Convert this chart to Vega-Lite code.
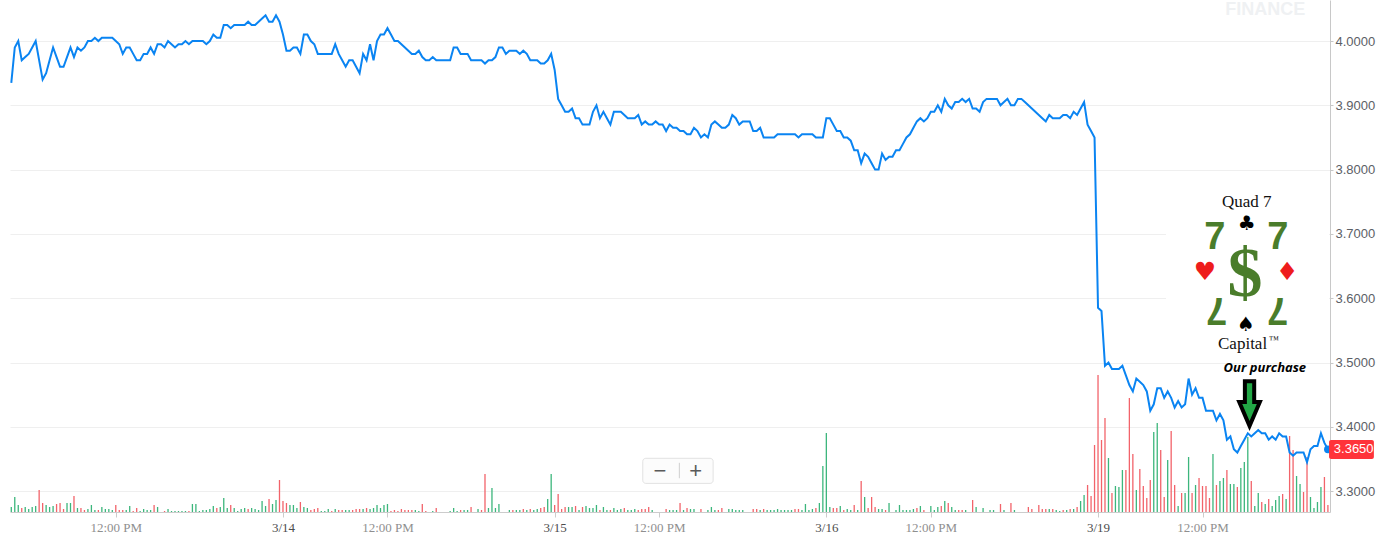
{
  "$schema": "https://vega.github.io/schema/vega-lite/v6.json",
  "width": 1320,
  "height": 512,
  "autosize": {"type": "none"},
  "padding": {"left": 10, "top": 0, "right": 54, "bottom": 34},
  "background": "#ffffff",
  "config": {"view": {"stroke": null}},
  "datasets": {
    "rows": [
      {"k":0,"p":3.935,"v":50,"c":"u"},{"k":1,"p":3.99,"v":150,"c":"u"},{"k":2,"p":4.0,"v":70,"c":"u"},{"k":3,"p":3.97,"v":40,"c":"d"},
      {"k":4,"p":3.975,"v":50,"c":"u"},{"k":5,"p":3.98,"v":30,"c":"u"},{"k":6,"p":3.99,"v":50,"c":"u"},{"k":7,"p":4.0,"v":60,"c":"u"},
      {"k":8,"p":3.97,"v":220,"c":"d"},{"k":9,"p":3.94,"v":90,"c":"d"},{"k":10,"p":3.95,"v":70,"c":"u"},{"k":11,"p":3.97,"v":50,"c":"u"},
      {"k":12,"p":3.99,"v":60,"c":"u"},{"k":13,"p":3.975,"v":80,"c":"d"},{"k":14,"p":3.96,"v":90,"c":"d"},{"k":15,"p":3.96,"v":30,"c":"d"},
      {"k":16,"p":3.975,"v":90,"c":"u"},{"k":17,"p":3.99,"v":90,"c":"u"},{"k":18,"p":3.975,"v":160,"c":"d"},{"k":19,"p":3.99,"v":40,"c":"u"},
      {"k":20,"p":3.985,"v":40,"c":"d"},{"k":21,"p":3.99,"v":20,"c":"d"},{"k":22,"p":4.0,"v":30,"c":"u"},{"k":23,"p":4.0,"v":70,"c":"u"},
      {"k":24,"p":4.005,"v":20,"c":"u"},{"k":25,"p":4.0,"v":20,"c":"d"},{"k":26,"p":4.005,"v":50,"c":"u"},{"k":27,"p":4.005,"v":30,"c":"u"},
      {"k":28,"p":4.005,"v":30,"c":"u"},{"k":29,"p":4.005,"v":20,"c":"u"},{"k":30,"p":4.0,"v":70,"c":"d"},{"k":31,"p":3.995,"v":20,"c":"d"},
      {"k":32,"p":3.98,"v":20,"c":"d"},{"k":33,"p":3.99,"v":20,"c":"u"},{"k":34,"p":3.99,"v":60,"c":"u"},{"k":35,"p":3.98,"v":10,"c":"d"},
      {"k":36,"p":3.97,"v":40,"c":"d"},{"k":37,"p":3.97,"v":10,"c":"u"},{"k":38,"p":3.98,"v":30,"c":"u"},{"k":39,"p":3.98,"v":20,"c":"u"},
      {"k":40,"p":3.99,"v":20,"c":"u"},{"k":41,"p":3.98,"v":70,"c":"d"},{"k":42,"p":3.995,"v":50,"c":"u"},{"k":43,"p":3.995,"v":0,"c":"u"},
      {"k":44,"p":3.99,"v":10,"c":"d"},{"k":45,"p":4.0,"v":30,"c":"u"},{"k":46,"p":3.995,"v":10,"c":"u"},{"k":47,"p":3.99,"v":10,"c":"u"},
      {"k":48,"p":3.995,"v":10,"c":"u"},{"k":49,"p":3.995,"v":10,"c":"u"},{"k":50,"p":4.0,"v":10,"c":"u"},{"k":51,"p":3.995,"v":10,"c":"d"},
      {"k":52,"p":4.0,"v":80,"c":"u"},{"k":53,"p":4.0,"v":80,"c":"u"},{"k":54,"p":4.0,"v":10,"c":"u"},{"k":55,"p":4.0,"v":20,"c":"u"},
      {"k":56,"p":3.995,"v":20,"c":"u"},{"k":57,"p":4.0,"v":30,"c":"u"},{"k":58,"p":4.01,"v":60,"c":"u"},{"k":59,"p":4.005,"v":40,"c":"d"},
      {"k":60,"p":4.005,"v":50,"c":"u"},{"k":61,"p":4.025,"v":140,"c":"u"},{"k":62,"p":4.025,"v":40,"c":"u"},{"k":63,"p":4.02,"v":70,"c":"d"},
      {"k":64,"p":4.025,"v":40,"c":"u"},{"k":65,"p":4.025,"v":10,"c":"u"},{"k":66,"p":4.025,"v":30,"c":"u"},{"k":67,"p":4.025,"v":40,"c":"u"},
      {"k":68,"p":4.03,"v":30,"c":"d"},{"k":69,"p":4.025,"v":40,"c":"u"},{"k":70,"p":4.025,"v":30,"c":"u"},{"k":71,"p":4.03,"v":20,"c":"u"},
      {"k":72,"p":4.035,"v":110,"c":"u"},{"k":73,"p":4.04,"v":60,"c":"u"},{"k":74,"p":4.03,"v":130,"c":"d"},{"k":75,"p":4.03,"v":80,"c":"u"},
      {"k":76,"p":4.04,"v":120,"c":"u"},{"k":77,"p":4.03,"v":320,"c":"d"},{"k":78,"p":4.01,"v":110,"c":"d"},{"k":79,"p":3.985,"v":90,"c":"d"},
      {"k":80,"p":3.985,"v":70,"c":"u"},{"k":81,"p":3.99,"v":70,"c":"u"},{"k":82,"p":3.99,"v":40,"c":"u"},{"k":83,"p":3.98,"v":100,"c":"d"},
      {"k":84,"p":4.01,"v":50,"c":"u"},{"k":85,"p":4.01,"v":40,"c":"u"},{"k":86,"p":4.0,"v":20,"c":"d"},{"k":87,"p":3.995,"v":30,"c":"d"},
      {"k":88,"p":3.98,"v":40,"c":"d"},{"k":89,"p":3.98,"v":10,"c":"u"},{"k":90,"p":3.98,"v":10,"c":"u"},{"k":91,"p":3.98,"v":30,"c":"u"},
      {"k":92,"p":3.98,"v":10,"c":"d"},{"k":93,"p":3.995,"v":30,"c":"u"},{"k":94,"p":3.98,"v":20,"c":"d"},{"k":95,"p":3.97,"v":20,"c":"d"},
      {"k":96,"p":3.96,"v":20,"c":"u"},{"k":97,"p":3.97,"v":20,"c":"u"},{"k":98,"p":3.97,"v":20,"c":"d"},{"k":99,"p":3.96,"v":30,"c":"d"},
      {"k":100,"p":3.95,"v":30,"c":"d"},{"k":101,"p":3.98,"v":30,"c":"u"},{"k":102,"p":3.97,"v":40,"c":"d"},{"k":103,"p":3.995,"v":30,"c":"u"},
      {"k":104,"p":3.97,"v":40,"c":"u"},{"k":105,"p":4.0,"v":70,"c":"u"},{"k":106,"p":4.01,"v":40,"c":"u"},{"k":107,"p":4.01,"v":70,"c":"u"},
      {"k":108,"p":4.02,"v":80,"c":"u"},{"k":109,"p":4.01,"v":10,"c":"d"},{"k":110,"p":4.0,"v":20,"c":"d"},{"k":111,"p":4.0,"v":10,"c":"d"},
      {"k":112,"p":3.995,"v":30,"c":"d"},{"k":113,"p":3.99,"v":20,"c":"d"},{"k":114,"p":3.985,"v":20,"c":"d"},{"k":115,"p":3.98,"v":20,"c":"d"},
      {"k":116,"p":3.98,"v":20,"c":"u"},{"k":117,"p":3.985,"v":10,"c":"u"},{"k":118,"p":3.975,"v":80,"c":"d"},{"k":119,"p":3.97,"v":10,"c":"d"},
      {"k":120,"p":3.97,"v":0,"c":"u"},{"k":121,"p":3.975,"v":10,"c":"u"},{"k":122,"p":3.97,"v":40,"c":"d"},{"k":123,"p":3.97,"v":0,"c":"u"},
      {"k":124,"p":3.97,"v":0,"c":"u"},{"k":125,"p":3.97,"v":0,"c":"u"},{"k":126,"p":3.97,"v":10,"c":"u"},{"k":127,"p":3.99,"v":40,"c":"u"},
      {"k":128,"p":3.99,"v":10,"c":"u"},{"k":129,"p":3.98,"v":20,"c":"d"},{"k":130,"p":3.98,"v":20,"c":"u"},{"k":131,"p":3.98,"v":20,"c":"u"},
      {"k":132,"p":3.97,"v":50,"c":"d"},{"k":133,"p":3.97,"v":0,"c":"u"},{"k":134,"p":3.97,"v":30,"c":"u"},{"k":135,"p":3.97,"v":20,"c":"d"},
      {"k":136,"p":3.965,"v":380,"c":"d"},{"k":137,"p":3.97,"v":40,"c":"u"},{"k":138,"p":3.97,"v":240,"c":"u"},{"k":139,"p":3.975,"v":40,"c":"u"},
      {"k":140,"p":3.99,"v":80,"c":"u"},{"k":141,"p":3.99,"v":0,"c":"u"},{"k":142,"p":3.98,"v":0,"c":"u"},{"k":143,"p":3.985,"v":20,"c":"u"},
      {"k":144,"p":3.985,"v":20,"c":"d"},{"k":145,"p":3.985,"v":20,"c":"u"},{"k":146,"p":3.98,"v":20,"c":"u"},{"k":147,"p":3.985,"v":30,"c":"d"},
      {"k":148,"p":3.98,"v":20,"c":"u"},{"k":149,"p":3.97,"v":30,"c":"d"},{"k":150,"p":3.97,"v":20,"c":"u"},{"k":151,"p":3.97,"v":30,"c":"u"},
      {"k":152,"p":3.965,"v":40,"c":"d"},{"k":153,"p":3.965,"v":50,"c":"d"},{"k":154,"p":3.97,"v":130,"c":"u"},{"k":155,"p":3.98,"v":380,"c":"u"},
      {"k":156,"p":3.955,"v":70,"c":"d"},{"k":157,"p":3.91,"v":180,"c":"d"},{"k":158,"p":3.9,"v":30,"c":"d"},{"k":159,"p":3.89,"v":50,"c":"d"},
      {"k":160,"p":3.89,"v":50,"c":"u"},{"k":161,"p":3.895,"v":50,"c":"u"},{"k":162,"p":3.88,"v":60,"c":"d"},{"k":163,"p":3.88,"v":20,"c":"u"},
      {"k":164,"p":3.87,"v":50,"c":"d"},{"k":165,"p":3.87,"v":60,"c":"u"},{"k":166,"p":3.87,"v":40,"c":"u"},{"k":167,"p":3.89,"v":40,"c":"u"},
      {"k":168,"p":3.9,"v":70,"c":"u"},{"k":169,"p":3.88,"v":20,"c":"d"},{"k":170,"p":3.89,"v":50,"c":"u"},{"k":171,"p":3.88,"v":20,"c":"u"},
      {"k":172,"p":3.87,"v":20,"c":"d"},{"k":173,"p":3.89,"v":40,"c":"u"},{"k":174,"p":3.89,"v":20,"c":"u"},{"k":175,"p":3.89,"v":30,"c":"u"},
      {"k":176,"p":3.885,"v":40,"c":"d"},{"k":177,"p":3.88,"v":20,"c":"u"},{"k":178,"p":3.88,"v":20,"c":"u"},{"k":179,"p":3.88,"v":30,"c":"u"},
      {"k":180,"p":3.885,"v":20,"c":"d"},{"k":181,"p":3.87,"v":30,"c":"d"},{"k":182,"p":3.875,"v":30,"c":"d"},{"k":183,"p":3.87,"v":50,"c":"d"},
      {"k":184,"p":3.87,"v":20,"c":"u"},{"k":185,"p":3.875,"v":0,"c":"u"},{"k":186,"p":3.87,"v":0,"c":"u"},{"k":187,"p":3.87,"v":0,"c":"u"},
      {"k":188,"p":3.86,"v":30,"c":"d"},{"k":189,"p":3.87,"v":20,"c":"u"},{"k":190,"p":3.865,"v":20,"c":"u"},{"k":191,"p":3.865,"v":20,"c":"u"},
      {"k":192,"p":3.86,"v":90,"c":"d"},{"k":193,"p":3.86,"v":20,"c":"u"},{"k":194,"p":3.855,"v":40,"c":"d"},{"k":195,"p":3.855,"v":30,"c":"u"},
      {"k":196,"p":3.865,"v":30,"c":"u"},{"k":197,"p":3.86,"v":0,"c":"u"},{"k":198,"p":3.85,"v":30,"c":"d"},{"k":199,"p":3.855,"v":0,"c":"u"},
      {"k":200,"p":3.85,"v":20,"c":"u"},{"k":201,"p":3.87,"v":50,"c":"u"},{"k":202,"p":3.875,"v":20,"c":"u"},{"k":203,"p":3.87,"v":20,"c":"d"},
      {"k":204,"p":3.865,"v":40,"c":"d"},{"k":205,"p":3.865,"v":0,"c":"u"},{"k":206,"p":3.87,"v":30,"c":"u"},{"k":207,"p":3.885,"v":30,"c":"u"},
      {"k":208,"p":3.88,"v":20,"c":"u"},{"k":209,"p":3.87,"v":20,"c":"u"},{"k":210,"p":3.875,"v":20,"c":"u"},{"k":211,"p":3.875,"v":0,"c":"u"},
      {"k":212,"p":3.875,"v":0,"c":"u"},{"k":213,"p":3.86,"v":30,"c":"d"},{"k":214,"p":3.86,"v":30,"c":"d"},{"k":215,"p":3.865,"v":20,"c":"u"},
      {"k":216,"p":3.85,"v":30,"c":"d"},{"k":217,"p":3.85,"v":20,"c":"u"},{"k":218,"p":3.85,"v":20,"c":"u"},{"k":219,"p":3.85,"v":20,"c":"u"},
      {"k":220,"p":3.855,"v":30,"c":"u"},{"k":221,"p":3.855,"v":20,"c":"u"},{"k":222,"p":3.855,"v":20,"c":"u"},{"k":223,"p":3.855,"v":20,"c":"u"},
      {"k":224,"p":3.855,"v":20,"c":"u"},{"k":225,"p":3.855,"v":30,"c":"d"},{"k":226,"p":3.85,"v":30,"c":"d"},{"k":227,"p":3.855,"v":20,"c":"u"},
      {"k":228,"p":3.855,"v":80,"c":"u"},{"k":229,"p":3.855,"v":20,"c":"u"},{"k":230,"p":3.855,"v":30,"c":"u"},{"k":231,"p":3.85,"v":40,"c":"d"},
      {"k":232,"p":3.85,"v":90,"c":"u"},{"k":233,"p":3.85,"v":460,"c":"u"},{"k":234,"p":3.88,"v":790,"c":"u"},{"k":235,"p":3.88,"v":50,"c":"u"},
      {"k":236,"p":3.87,"v":40,"c":"d"},{"k":237,"p":3.86,"v":40,"c":"d"},{"k":238,"p":3.86,"v":60,"c":"u"},{"k":239,"p":3.85,"v":20,"c":"d"},
      {"k":240,"p":3.85,"v":30,"c":"u"},{"k":241,"p":3.845,"v":20,"c":"u"},{"k":242,"p":3.83,"v":70,"c":"d"},{"k":243,"p":3.83,"v":20,"c":"u"},
      {"k":244,"p":3.81,"v":310,"c":"d"},{"k":245,"p":3.825,"v":150,"c":"u"},{"k":246,"p":3.82,"v":40,"c":"d"},{"k":247,"p":3.81,"v":150,"c":"d"},
      {"k":248,"p":3.8,"v":50,"c":"d"},{"k":249,"p":3.8,"v":30,"c":"u"},{"k":250,"p":3.825,"v":30,"c":"u"},{"k":251,"p":3.815,"v":20,"c":"d"},
      {"k":252,"p":3.82,"v":90,"c":"u"},{"k":253,"p":3.82,"v":0,"c":"u"},{"k":254,"p":3.83,"v":20,"c":"u"},{"k":255,"p":3.83,"v":70,"c":"u"},
      {"k":256,"p":3.84,"v":20,"c":"u"},{"k":257,"p":3.85,"v":20,"c":"u"},{"k":258,"p":3.855,"v":20,"c":"u"},{"k":259,"p":3.865,"v":30,"c":"u"},
      {"k":260,"p":3.875,"v":40,"c":"d"},{"k":261,"p":3.88,"v":60,"c":"u"},{"k":262,"p":3.875,"v":20,"c":"d"},{"k":263,"p":3.88,"v":0,"c":"u"},
      {"k":264,"p":3.89,"v":60,"c":"u"},{"k":265,"p":3.89,"v":20,"c":"u"},{"k":266,"p":3.9,"v":50,"c":"u"},{"k":267,"p":3.89,"v":60,"c":"d"},
      {"k":268,"p":3.91,"v":110,"c":"u"},{"k":269,"p":3.9,"v":90,"c":"d"},{"k":270,"p":3.895,"v":50,"c":"u"},{"k":271,"p":3.905,"v":20,"c":"u"},
      {"k":272,"p":3.905,"v":20,"c":"d"},{"k":273,"p":3.91,"v":20,"c":"d"},{"k":274,"p":3.905,"v":20,"c":"u"},{"k":275,"p":3.91,"v":0,"c":"u"},
      {"k":276,"p":3.895,"v":120,"c":"d"},{"k":277,"p":3.895,"v":50,"c":"u"},{"k":278,"p":3.89,"v":0,"c":"u"},{"k":279,"p":3.905,"v":40,"c":"u"},
      {"k":280,"p":3.91,"v":0,"c":"u"},{"k":281,"p":3.91,"v":20,"c":"u"},{"k":282,"p":3.91,"v":20,"c":"u"},{"k":283,"p":3.91,"v":0,"c":"u"},
      {"k":284,"p":3.9,"v":80,"c":"d"},{"k":285,"p":3.905,"v":20,"c":"u"},{"k":286,"p":3.91,"v":0,"c":"u"},{"k":287,"p":3.9,"v":90,"c":"d"},
      {"k":288,"p":3.9,"v":20,"c":"u"},{"k":289,"p":3.91,"v":0,"c":"u"},{"k":290,"p":3.91,"v":0,"c":"u"},{"k":291,"p":3.905,"v":0,"c":"u"},
      {"k":292,"p":3.9,"v":50,"c":"d"},{"k":293,"p":3.895,"v":30,"c":"d"},{"k":294,"p":3.89,"v":0,"c":"u"},{"k":295,"p":3.885,"v":70,"c":"d"},
      {"k":296,"p":3.88,"v":30,"c":"d"},{"k":297,"p":3.875,"v":30,"c":"d"},{"k":298,"p":3.885,"v":30,"c":"u"},{"k":299,"p":3.88,"v":30,"c":"d"},
      {"k":300,"p":3.88,"v":20,"c":"u"},{"k":301,"p":3.88,"v":10,"c":"u"},{"k":302,"p":3.885,"v":20,"c":"d"},{"k":303,"p":3.885,"v":20,"c":"u"},
      {"k":304,"p":3.88,"v":30,"c":"d"},{"k":305,"p":3.89,"v":30,"c":"u"},{"k":306,"p":3.885,"v":50,"c":"d"},{"k":307,"p":3.895,"v":110,"c":"u"},
      {"k":308,"p":3.905,"v":170,"c":"u"},{"k":309,"p":3.87,"v":270,"c":"d"},{"k":310,"p":3.86,"v":160,"c":"d"},{"k":311,"p":3.85,"v":670,"c":"d"},
      {"k":312,"p":3.585,"v":1370,"c":"d"},{"k":313,"p":3.58,"v":720,"c":"d"},{"k":314,"p":3.495,"v":940,"c":"d"},{"k":315,"p":3.5,"v":540,"c":"u"},
      {"k":316,"p":3.49,"v":190,"c":"d"},{"k":317,"p":3.49,"v":260,"c":"u"},{"k":318,"p":3.49,"v":250,"c":"u"},{"k":319,"p":3.495,"v":420,"c":"u"},
      {"k":320,"p":3.48,"v":420,"c":"d"},{"k":321,"p":3.465,"v":1140,"c":"d"},{"k":322,"p":3.455,"v":580,"c":"d"},{"k":323,"p":3.475,"v":220,"c":"u"},
      {"k":324,"p":3.47,"v":430,"c":"d"},{"k":325,"p":3.465,"v":260,"c":"d"},{"k":326,"p":3.455,"v":140,"c":"d"},{"k":327,"p":3.425,"v":320,"c":"d"},
      {"k":328,"p":3.435,"v":800,"c":"u"},{"k":329,"p":3.46,"v":890,"c":"u"},{"k":330,"p":3.46,"v":620,"c":"d"},{"k":331,"p":3.445,"v":150,"c":"d"},
      {"k":332,"p":3.455,"v":520,"c":"u"},{"k":333,"p":3.445,"v":810,"c":"d"},{"k":334,"p":3.43,"v":270,"c":"d"},{"k":335,"p":3.44,"v":60,"c":"u"},
      {"k":336,"p":3.43,"v":190,"c":"d"},{"k":337,"p":3.435,"v":190,"c":"u"},{"k":338,"p":3.475,"v":550,"c":"u"},{"k":339,"p":3.45,"v":190,"c":"d"},
      {"k":340,"p":3.46,"v":270,"c":"u"},{"k":341,"p":3.445,"v":340,"c":"d"},{"k":342,"p":3.445,"v":260,"c":"d"},{"k":343,"p":3.425,"v":260,"c":"d"},
      {"k":344,"p":3.425,"v":140,"c":"d"},{"k":345,"p":3.425,"v":580,"c":"u"},{"k":346,"p":3.41,"v":270,"c":"d"},{"k":347,"p":3.42,"v":310,"c":"u"},
      {"k":348,"p":3.41,"v":340,"c":"u"},{"k":349,"p":3.38,"v":420,"c":"d"},{"k":350,"p":3.385,"v":280,"c":"u"},{"k":351,"p":3.365,"v":280,"c":"u"},
      {"k":352,"p":3.36,"v":250,"c":"d"},{"k":353,"p":3.37,"v":440,"c":"u"},{"k":354,"p":3.38,"v":500,"c":"u"},{"k":355,"p":3.39,"v":750,"c":"u"},
      {"k":356,"p":3.385,"v":310,"c":"d"},{"k":357,"p":3.39,"v":60,"c":"u"},{"k":358,"p":3.395,"v":190,"c":"u"},{"k":359,"p":3.39,"v":100,"c":"d"},
      {"k":360,"p":3.39,"v":80,"c":"u"},{"k":361,"p":3.38,"v":130,"c":"d"},{"k":362,"p":3.385,"v":60,"c":"u"},{"k":363,"p":3.38,"v":120,"c":"u"},
      {"k":364,"p":3.39,"v":160,"c":"u"},{"k":365,"p":3.385,"v":180,"c":"d"},{"k":366,"p":3.385,"v":130,"c":"u"},{"k":367,"p":3.36,"v":760,"c":"d"},
      {"k":368,"p":3.355,"v":620,"c":"d"},{"k":369,"p":3.36,"v":360,"c":"u"},{"k":370,"p":3.36,"v":280,"c":"u"},{"k":371,"p":3.36,"v":200,"c":"d"},
      {"k":372,"p":3.345,"v":550,"c":"d"},{"k":373,"p":3.365,"v":150,"c":"u"},{"k":374,"p":3.37,"v":40,"c":"u"},{"k":375,"p":3.37,"v":100,"c":"u"},
      {"k":376,"p":3.39,"v":250,"c":"u"},{"k":377,"p":3.375,"v":350,"c":"d"},{"k":378,"p":3.365,"v":70,"c":"d"}
    ],
    "notes": [
      {"id": "wm", "k": 360, "p": 4.048, "t": "FINANCE"},
      {"id": "wbox", "k": 331.5, "k2": 378.3, "p": 3.51, "p2": 3.787},
      {"id": "zbox", "k": 181.3, "k2": 201.5, "p": 3.312, "p2": 3.351},
      {"id": "zdiv", "k": 191.8, "p": 3.32, "p2": 3.344},
      {"id": "zbtn", "k": 186.2, "p": 3.332, "t": "−"},
      {"id": "zbtn", "k": 196.5, "p": 3.332, "t": "+"},
      {"id": "serif", "k": 354.7, "p": 3.7496, "t": "Quad 7"},
      {"id": "serif", "k": 353.5, "p": 3.5288, "t": "Capital"},
      {"id": "tm", "k": 362.4, "p": 3.5345, "t": "™"},
      {"id": "suitk", "k": 354.7, "p": 3.7154, "t": "♣"},
      {"id": "suitk", "k": 354.5, "p": 3.5583, "t": "♠"},
      {"id": "suitr", "k": 342.7, "p": 3.6412, "t": "♥"},
      {"id": "suitr", "k": 366.3, "p": 3.6412, "t": "♦"},
      {"id": "seven", "k": 345.5, "p": 3.6932, "t": "7"},
      {"id": "seven", "k": 363.6, "p": 3.6932, "t": "7"},
      {"id": "seven2", "k": 346.1, "p": 3.5832, "t": "7"},
      {"id": "seven2", "k": 363.6, "p": 3.5832, "t": "7"},
      {"id": "dollar", "k": 354.2, "p": 3.636, "t": "$"},
      {"id": "purchase", "k": 359.9, "p": 3.491, "t": "Our purchase"},
      {"id": "arrow", "k": 355.5, "p": 3.4355},
      {"id": "tag", "k": 378.33, "k2": 391.2, "p": 3.35, "p2": 3.3795},
      {"id": "tagtext", "k": 385.4, "p": 3.365, "t": "3.3650"}
    ]
  },
  "data": {"name": "rows"},
  "encoding": {
    "x": {
      "field": "k",
      "type": "quantitative",
      "scale": {"domain": [-0.37, 378.6], "nice": false, "zero": false},
      "axis": {
        "values": [30, 78, 108, 156, 186, 234, 264, 312, 342],
        "labelExpr": "datum.value == 78 ? '3/14' : datum.value == 156 ? '3/15' : datum.value == 234 ? '3/16' : datum.value == 312 ? '3/19' : '12:00 PM'",
        "grid": false,
        "title": null,
        "domainColor": "#cccccc",
        "tickColor": "#cccccc",
        "tickSize": 5,
        "labelFont": "Liberation Serif",
        "labelFontSize": 13,
        "labelColor": {"condition": {"test": "datum.value % 78 == 0", "value": "#4d4d4d"}, "value": "#8f8f8f"},
        "labelPadding": 4,
        "labelFlush": false,
        "labelOverlap": false
      }
    }
  },
  "layer": [
    {
      "mark": {"type": "rule", "strokeWidth": 1.3},
      "encoding": {
        "y": {"field": "v", "type": "quantitative", "scale": {"domain": [0, 5120]}, "axis": null},
        "y2": {"datum": 0},
        "color": {"field": "c", "type": "nominal", "scale": {"domain": ["u", "d"], "range": ["#3cb67c", "#f2636a"]}, "legend": null}
      }
    },
    {
      "encoding": {
        "y": {
          "field": "p",
          "type": "quantitative",
          "scale": {"domain": [3.2675, 4.0638], "nice": false, "zero": false},
          "axis": {
            "orient": "right",
            "values": [3.3, 3.4, 3.5, 3.6, 3.7, 3.8, 3.9, 4.0],
            "format": ".4f",
            "title": null,
            "grid": true,
            "gridColor": "#efefef",
            "domainColor": "#c8c8c8",
            "tickColor": "#c8c8c8",
            "tickSize": 3,
            "labelPadding": 2,
            "labelFont": "Liberation Sans",
            "labelFontSize": 13,
            "labelColor": "#5b6066"
          }
        }
      },
      "layer": [
        {
          "data": {"name": "notes"},
          "transform": [{"filter": "datum.id == 'wm'"}],
          "mark": {"type": "text", "font": "Liberation Sans", "fontWeight": "bold", "fontSize": 18, "color": "#eff1f3", "align": "center", "baseline": "middle"},
          "encoding": {"text": {"field": "t"}}
        },
        {
          "data": {"name": "notes"},
          "transform": [{"filter": "datum.id == 'wbox'"}],
          "mark": {"type": "rect", "fill": "#ffffff"},
          "encoding": {"x2": {"field": "k2"}, "y2": {"field": "p2"}}
        },
        {
          "mark": {"type": "line", "color": "#0a84f2", "strokeWidth": 2}
        },
        {
          "data": {"name": "notes"},
          "transform": [{"filter": "datum.id == 'zbox'"}],
          "mark": {"type": "rect", "fill": "#fcfcfc", "stroke": "#e2e2e2", "cornerRadius": 3},
          "encoding": {"x2": {"field": "k2"}, "y2": {"field": "p2"}}
        },
        {
          "data": {"name": "notes"},
          "transform": [{"filter": "datum.id == 'zdiv'"}],
          "mark": {"type": "rule", "color": "#cfcfcf"},
          "encoding": {"y2": {"field": "p2"}}
        },
        {
          "data": {"name": "notes"},
          "transform": [{"filter": "datum.id == 'zbtn'"}],
          "mark": {"type": "text", "font": "Liberation Sans", "fontSize": 22, "color": "#5a5a5a", "align": "center", "baseline": "middle"},
          "encoding": {"text": {"field": "t"}}
        },
        {
          "data": {"name": "notes"},
          "transform": [{"filter": "datum.id == 'serif'"}],
          "mark": {"type": "text", "font": "Liberation Serif", "fontSize": 17, "color": "#111111", "align": "center", "baseline": "middle"},
          "encoding": {"text": {"field": "t"}}
        },
        {
          "data": {"name": "notes"},
          "transform": [{"filter": "datum.id == 'tm'"}],
          "mark": {"type": "text", "font": "Liberation Serif", "fontSize": 10, "color": "#111111", "align": "center", "baseline": "middle"},
          "encoding": {"text": {"field": "t"}}
        },
        {
          "data": {"name": "notes"},
          "transform": [{"filter": "datum.id == 'suitk'"}],
          "mark": {"type": "text", "font": "DejaVu Sans", "fontSize": 20, "color": "#000000", "align": "center", "baseline": "middle"},
          "encoding": {"text": {"field": "t"}}
        },
        {
          "data": {"name": "notes"},
          "transform": [{"filter": "datum.id == 'suitr'"}],
          "mark": {"type": "text", "font": "DejaVu Sans", "fontSize": 25, "color": "#ee1c1c", "align": "center", "baseline": "middle"},
          "encoding": {"text": {"field": "t"}}
        },
        {
          "data": {"name": "notes"},
          "transform": [{"filter": "datum.id == 'seven'"}],
          "mark": {"type": "text", "font": "Liberation Sans", "fontWeight": "bold", "fontSize": 38, "color": "#4a7d2b", "align": "center", "baseline": "middle"},
          "encoding": {"text": {"field": "t"}}
        },
        {
          "data": {"name": "notes"},
          "transform": [{"filter": "datum.id == 'seven2'"}],
          "mark": {"type": "text", "angle": 180, "font": "Liberation Sans", "fontWeight": "bold", "fontSize": 38, "color": "#4a7d2b", "align": "center", "baseline": "middle"},
          "encoding": {"text": {"field": "t"}}
        },
        {
          "data": {"name": "notes"},
          "transform": [{"filter": "datum.id == 'dollar'"}],
          "mark": {"type": "text", "font": "Liberation Serif", "fontWeight": "bold", "fontSize": 70, "color": "#4a7d2b", "align": "center", "baseline": "middle"},
          "encoding": {"text": {"field": "t"}}
        },
        {
          "data": {"name": "notes"},
          "transform": [{"filter": "datum.id == 'purchase'"}],
          "mark": {"type": "text", "font": "Open Sans", "fontStyle": "italic", "fontWeight": "bold", "fontSize": 13, "color": "#000000", "align": "center", "baseline": "middle"},
          "encoding": {"text": {"field": "t"}}
        },
        {
          "data": {"name": "notes"},
          "transform": [{"filter": "datum.id == 'arrow'"}],
          "mark": {"type": "point", "shape": "M-0.19,-0.93L0.19,-0.93L0.19,-0.08L0.42,-0.08L0,0.9L-0.42,-0.08L-0.19,-0.08Z", "size": 2401, "filled": true, "fill": "#22a846", "stroke": "#000000", "strokeWidth": 4, "strokeJoin": "miter", "opacity": 1}
        },
        {
          "transform": [{"filter": "datum.k == 378"}],
          "mark": {"type": "point", "filled": true, "size": 60, "color": "#0a84f2", "opacity": 1}
        },
        {
          "data": {"name": "notes"},
          "transform": [{"filter": "datum.id == 'tag'"}],
          "mark": {"type": "rect", "fill": "#ff333a", "cornerRadius": 2},
          "encoding": {"x2": {"field": "k2"}, "y2": {"field": "p2"}}
        },
        {
          "data": {"name": "notes"},
          "transform": [{"filter": "datum.id == 'tagtext'"}],
          "mark": {"type": "text", "font": "Liberation Sans", "fontSize": 13, "color": "#ffffff", "align": "center", "baseline": "middle"},
          "encoding": {"text": {"field": "t"}}
        }
      ]
    }
  ],
  "resolve": {"scale": {"y": "independent"}}
}
